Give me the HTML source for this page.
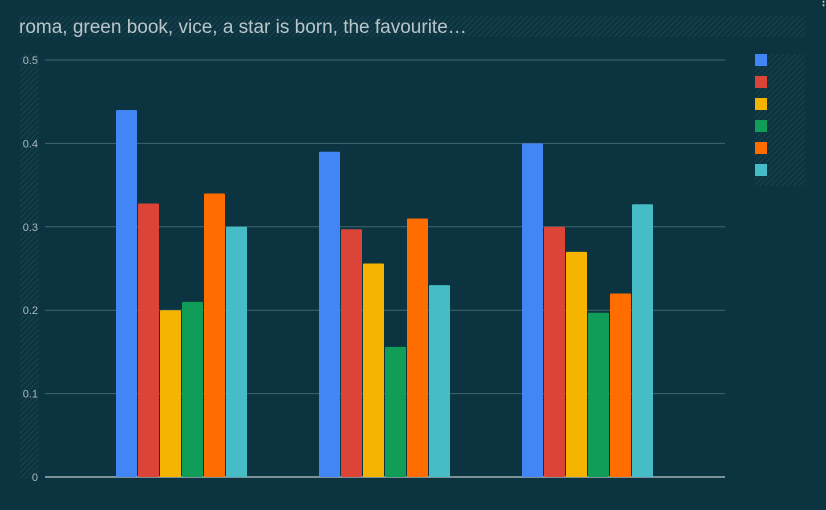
<!DOCTYPE html>
<html><head><meta charset="utf-8"><style>
body{margin:0;width:826px;height:505px;background:#0c3440;overflow:hidden;font-family:"Liberation Sans",sans-serif}
</style></head><body>
<svg width="826" height="505">
<defs><pattern id="h" width="4" height="4" patternUnits="userSpaceOnUse" patternTransform="rotate(45)"><rect width="4" height="4" fill="#0c3440"/><line x1="0" y1="0" x2="0" y2="4" stroke="#1f4853" stroke-width="1.5"/></pattern></defs>
<rect x="18" y="16" width="787" height="21" fill="url(#h)"/>
<text x="19" y="33" fill="#b9c6c9" font-size="19">roma, green book, vice, a star is born, the favourite…</text>
<rect x="20" y="54" width="19" height="425" fill="url(#h)"/>
<rect x="755" y="54" width="50" height="132" fill="url(#h)"/>
<g fill="#c7c7c7" font-size="11" font-weight="bold"><text x="818" y="5">⋮</text></g>
<g id="grid"></g><g id="bars"></g><g id="legend"></g>
</svg>
<script>
const yTicks=[0,0.1,0.2,0.3,0.4,0.5];
const tickLabels=["0","0.1","0.2","0.3","0.4","0.5"];
const colors=["#4285f4","#db4437","#f4b400","#0f9d58","#ff6d00","#46bdc6"];
const s1=[0.44,0.39,0.40];
const s2=[0.328,0.297,0.30];
const s3=[0.20,0.256,0.27];
const s4=[0.21,0.156,0.197];
const s5=[0.34,0.31,0.22];
const s6=[0.30,0.23,0.327];
const series=[s1,s2,s3,s4,s5,s6];
const NS="http://www.w3.org/2000/svg";
const y0=477,y1=60,x0=45,x1=725;
const y=v=>y0-(v/0.5)*(y0-y1);
const g=document.getElementById('grid');
yTicks.forEach((t,i)=>{
 const l=document.createElementNS(NS,'line');
 l.setAttribute('x1',x0);l.setAttribute('x2',x1);l.setAttribute('y1',y(t));l.setAttribute('y2',y(t));
 l.setAttribute('stroke',t===0?'#e8eef0':'#3f6670');l.setAttribute('stroke-width',1);
 
 
 g.appendChild(l);
 const tx=document.createElementNS(NS,'text');
 tx.setAttribute('x',38);tx.setAttribute('y',y(t)+4);tx.setAttribute('text-anchor','end');
 tx.setAttribute('fill','#a9b8bc');tx.setAttribute('font-size','11');tx.textContent=tickLabels[i];
 
 
 g.appendChild(tx);
});
const b=document.getElementById('bars');
const groupStart=116,groupStep=203,barStep=22,barW=21;
series.forEach((s,si)=>s.forEach((v,gi)=>{
 const r=document.createElementNS(NS,'rect');
 r.setAttribute('x',groupStart+gi*groupStep+si*barStep);r.setAttribute('y',y(v));
 r.setAttribute('width',barW);r.setAttribute('height',y0-y(v));r.setAttribute('fill',colors[si]);r.setAttribute('rx',1);
 
 
 b.appendChild(r);
}));
const lg=document.getElementById('legend');
colors.forEach((c,i)=>{
 const r=document.createElementNS(NS,'rect');
 r.setAttribute('x',755);r.setAttribute('y',54+i*22);r.setAttribute('width',12);r.setAttribute('height',12);r.setAttribute('fill',c);
 
 
 lg.appendChild(r);
});
</script>
</body></html>
